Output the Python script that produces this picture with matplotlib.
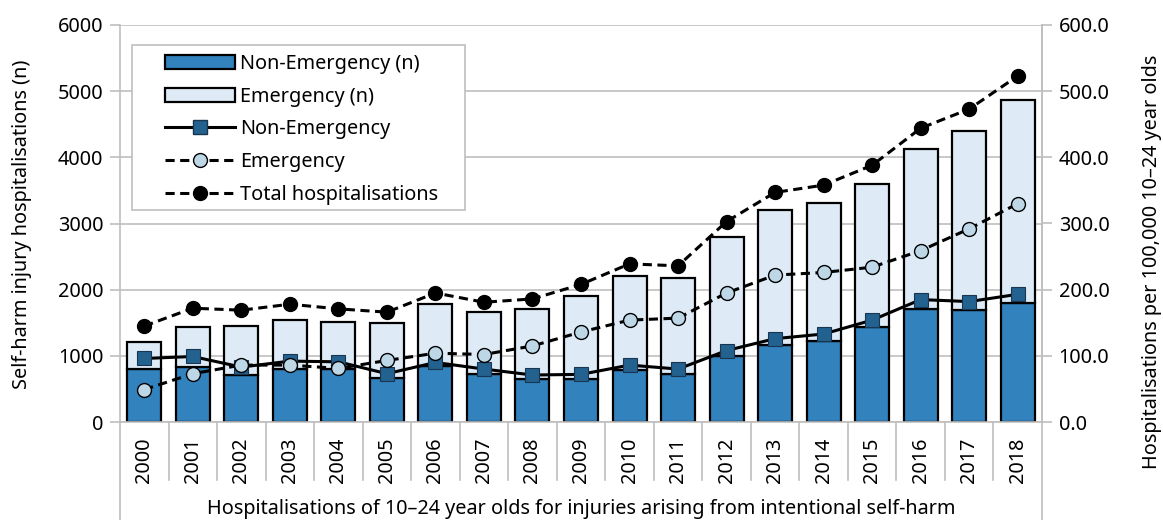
import numpy as np
import matplotlib
matplotlib.use('Agg')
import matplotlib.pyplot as plt
from matplotlib.lines import Line2D
from matplotlib.patches import Patch, Rectangle

plt.rcParams['font.family'] = ['Noto Sans', 'DejaVu Sans']

years = ['2000', '2001', '2002', '2003', '2004', '2005', '2006', '2007', '2008', '2009',
         '2010', '2011', '2012', '2013', '2014', '2015', '2016', '2017', '2018']

# hospitalisation counts (n)
non_emerg_n = [800, 830, 710, 800, 800, 660, 840, 725, 650, 650,
               785, 725, 1000, 1165, 1230, 1430, 1710, 1690, 1800]
total_n = [1205, 1440, 1445, 1540, 1515, 1490, 1790, 1660, 1710, 1910,
           2205, 2180, 2790, 3210, 3310, 3600, 4125, 4405, 4870]
emerg_n = [t - ne for t, ne in zip(total_n, non_emerg_n)]

# rates per 100,000 10-24 year olds
non_emerg_rate = [96, 99, 83, 92, 91, 73, 90, 80, 71, 72,
                  86, 80, 108, 126, 133, 154, 185, 182, 193]
emerg_rate = [49, 73, 86, 86, 81, 93, 104, 102, 115, 136,
              154, 157, 195, 222, 226, 234, 259, 292, 330]
total_rate = [145, 172, 169, 178, 171, 166, 195, 181, 186, 208,
              239, 236, 303, 347, 358, 388, 444, 473, 523]

DARK = '#3182BD'
LIGHT = '#DEEBF7'
SQ = '#23618F'
CIRC = '#BDD7E7'
GRID = '#BFBFBF'
FS = 14.3

fig = plt.figure(figsize=(11.63, 5.2), dpi=100)
ax = fig.add_axes([120 / 1163, 1 - 422 / 520, 922 / 1163, 397 / 520])
ax2 = ax.twinx()

x = np.arange(len(years))
ax.bar(x, non_emerg_n, width=0.7, color=DARK, edgecolor='black', lw=1.6, zorder=2)
ax.bar(x, emerg_n, width=0.7, bottom=non_emerg_n, color=LIGHT, edgecolor='black',
       lw=1.6, zorder=2)

dash = (3, 1.8)
ax2.plot(x, non_emerg_rate, color='black', lw=2.2, marker='s', ms=10,
         mfc=SQ, mec='#1a3550', mew=0.8, zorder=3)
ax2.plot(x, emerg_rate, color='black', lw=2.2, ls=(0, dash), marker='o', ms=10,
         mfc=CIRC, mec='black', mew=1.0, zorder=3)
ax2.plot(x, total_rate, color='black', lw=2.2, ls=(0, dash), marker='o', ms=10,
         mfc='black', mec='black', zorder=3)

ax.set_xlim(-0.5, len(years) - 0.5)
ax.set_ylim(0, 6000)
ax.set_yticks(np.arange(0, 6001, 1000))
ax2.set_ylim(0, 600)
ax2.set_yticks(np.arange(0, 601, 100))
ax2.set_yticklabels([f'{v:.1f}' for v in np.arange(0, 601, 100)])

ax.yaxis.grid(True, color=GRID, lw=1.2, zorder=0)
ax.set_axisbelow(True)
ax.set_xticks([])
for a in (ax, ax2):
    a.spines['top'].set_visible(False)
    for side in ('bottom', 'left', 'right'):
        a.spines[side].set_color(GRID)
        a.spines[side].set_linewidth(1.2)
    a.tick_params(axis='y', colors=GRID, labelcolor='black', labelsize=FS,
                  length=7, width=1.2, pad=5)
ax2.spines['left'].set_visible(False)
ax2.spines['bottom'].set_visible(False)

ax.set_ylabel('Self-harm injury hospitalisations (n)', fontsize=FS)
ax.yaxis.set_label_coords(-0.095, 0.497)
ax2.set_ylabel('Hospitalisations per 100,000 10–24 year olds', fontsize=FS)
ax2.yaxis.set_label_coords(1.108, 0.403)

# multi-level category axis: year boxes and outer label box
trans = ax.get_xaxis_transform()
px = 1 / 397
for b in np.arange(0.5, len(years) - 1, 1):
    ax.plot([b, b], [0, -58 * px], transform=trans, color=GRID, lw=1.2,
            clip_on=False)
for xx in (-0.5, len(years) - 0.5):
    ax.plot([xx, xx], [0, -100 * px], transform=trans, color=GRID, lw=1.2,
            clip_on=False)
for i, y in enumerate(years):
    ax.text(i, -38 * px, y, transform=trans, rotation=90, ha='center',
            va='center', fontsize=FS)
ax.text((len(years) - 1) / 2, -87 * px,
        'Hospitalisations of 10–24 year olds for injuries arising from intentional self-harm',
        transform=trans, ha='center', va='center', fontsize=FS)

handles = [
    Patch(facecolor=DARK, edgecolor='black', lw=1.6, label='Non-Emergency (n)'),
    Patch(facecolor=LIGHT, edgecolor='black', lw=1.6, label='Emergency (n)'),
    Line2D([], [], color='black', lw=2.2, marker='s', ms=10, mfc=SQ,
           mec='#1a3550', label='Non-Emergency'),
    Line2D([], [], color='black', lw=2.2, ls=(0, dash), marker='o', ms=10,
           mfc=CIRC, mec='black', label='Emergency'),
    Line2D([], [], color='black', lw=2.2, ls=(0, dash), marker='o', ms=10,
           mfc='black', mec='black', label='Total hospitalisations'),
]
# legend frame drawn separately: wide side margins, tight top and bottom
frame = Rectangle((12 / 922, (422 - 210) / 397), 333 / 922, 165 / 397,
                  transform=ax2.transAxes, facecolor='white', edgecolor=GRID,
                  lw=1.2, zorder=4)
ax2.add_patch(frame)
leg = ax2.legend(handles=handles, loc='upper left',
                 bbox_to_anchor=(45 / 922, (422 - 54) / 397),
                 fontsize=FS, frameon=False, handlelength=3.5,
                 handleheight=0.7, labelspacing=0.64, borderpad=0,
                 handletextpad=0.3, borderaxespad=0)
leg.set_zorder(5)

fig.savefig('out.png', dpi=100)
